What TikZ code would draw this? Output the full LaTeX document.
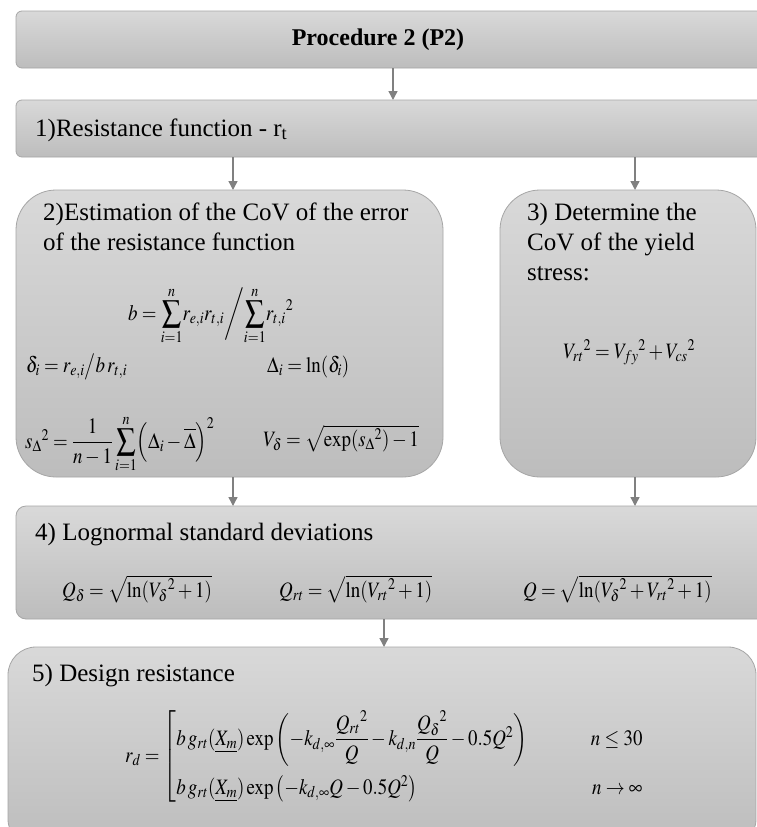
\documentclass[tikz,border=0pt]{standalone}
\usepackage{amsmath}
\usepackage{mathptmx}
\usepackage{fontspec}
\setmainfont{Liberation Serif}
\usetikzlibrary{arrows.meta}
\newcommand\condmath[1]{\scalebox{0.86}[1]{#1}}
\tikzset{
  box/.style={draw=gray!70, line width=0.8pt, top color=gray!30, bottom color=gray!52,
    anchor=north west, inner sep=0pt, outer sep=0pt},
  arr/.style={draw=gray, line width=1.4pt, -{Triangle[width=9pt,length=9pt]}},
  lbl/.style={anchor=base west, inner sep=0pt, font=\fontsize{25}{30}\selectfont},
  ttl/.style={inner sep=0pt, font=\bfseries\fontsize{24}{28}\selectfont},
  eq/.style={anchor=base west, inner sep=0pt, font=\fontsize{22}{26}\selectfont}
}
\begin{document}
\begin{tikzpicture}[x=1pt,y=-1pt]
\fill[white] (0,0) rectangle (756,827);
\useasboundingbox (0,0) rectangle (756,827);
% boxes
\node[box, rounded corners=6pt, minimum width=770, minimum height=57] (t) at (16,11) {};
\node[box, rounded corners=6pt, minimum width=770, minimum height=57] (b1) at (16,100) {};
\node[box, rounded corners=40pt, minimum width=427, minimum height=287] (b2) at (16,190) {};
\node[box, rounded corners=40pt, minimum width=256, minimum height=287] (b3) at (500,190) {};
\node[box, rounded corners=10pt, minimum width=770, minimum height=113] (b4) at (16,506) {};
\node[box, rounded corners=28pt, minimum width=748, minimum height=200] (b5) at (8,647) {};
% connector x positions
\coordinate (c393) at (393,0);
\coordinate (c233) at (233,0);
\coordinate (c635) at (635,0);
\coordinate (c384) at (384,0);
\draw[arr] (c393 |- t.south) -- (c393 |- b1.north);
\draw[arr] (c233 |- b1.south) -- (c233 |- b2.north);
\draw[arr] (c635 |- b1.south) -- (c635 |- b3.north);
\draw[arr] (c233 |- b2.south) -- (c233 |- b4.north);
\draw[arr] (c635 |- b3.south) -- (c635 |- b4.north);
\draw[arr] (c384 |- b4.south) -- (c384 |- b5.north);
% texts
\node[ttl] (tt) at (378,40) {Procedure 2 (P2)};
\node[lbl] (l1) at (35,136) {1)Resistance function - r\textsubscript{t}};
\node[lbl] (l2a) at (43,220) {2)Estimation of the CoV of the error};
\node[lbl] (l2b) at (43,250) {of the resistance function};
\node[eq] (e2a) at (128,320) {\condmath{$b=\displaystyle\sum_{i=1}^{n}\! r_{e,i}r_{t,i}\bigg/\!\sum_{i=1}^{n}\!{r_{t,i}}^{2}$}};
\node[eq] (e2b) at (26,372) {\condmath{$\delta_i = r_{e,i}\big/ b\,r_{t,i}$}};
\node[eq] (e2c) at (267,372) {\condmath{$\Delta_i = \ln(\delta_i)$}};
\node[eq] (e2d) at (25,448) {\condmath{${s_{\Delta}}^{2} = \dfrac{1}{n-1}\displaystyle\sum_{i=1}^{n}\Bigl(\Delta_i-\overline{\Delta}\Bigr)^{2}$}};
\node[eq] (e2e) at (263,446) {\condmath{$V_\delta=\sqrt{\exp({s_\Delta}^{2})-1}$}};
\node[lbl] (l3a) at (527,220) {3) Determine the};
\node[lbl] (l3b) at (527,250) {CoV of the yield};
\node[lbl] (l3c) at (527,280) {stress:};
\node[eq] (e3) at (563,358) {\condmath{${V_{rt}}^{2}={V_{fy}}^{2}+{V_{cs}}^{2}$}};
\node[lbl] (l4) at (35,540) {4) Lognormal standard deviations};
\node[eq] (e4a) at (62,597) {\condmath{$Q_\delta=\sqrt{\ln({V_\delta}^{2}+1)}$}};
\node[eq] (e4b) at (279,597) {\condmath{$Q_{rt}=\sqrt{\ln({V_{rt}}^{2}+1)}$}};
\node[eq] (e4c) at (523,597) {\condmath{$Q=\sqrt{\ln({V_\delta}^{2}+{V_{rt}}^{2}+1)}$}};
\node[lbl] (l5) at (32,681) {5) Design resistance};
\node[eq] (e5) at (125,762) {\condmath{$r_d=\left[\begin{array}{@{}l@{\hspace{74pt}}r@{}}
 b\,g_{rt}(\underline{X_m})\exp\left(-k_{d,\infty}\dfrac{{Q_{rt}}^{2}}{Q}-k_{d,n}\dfrac{{Q_\delta}^{2}}{Q}-0.5Q^2\right) & n\le 30\\[22pt]
 b\,g_{rt}(\underline{X_m})\exp\left(-k_{d,\infty}Q-0.5Q^2\right) & n\to\infty
 \end{array}\right.$}};
\end{tikzpicture}
\end{document}
